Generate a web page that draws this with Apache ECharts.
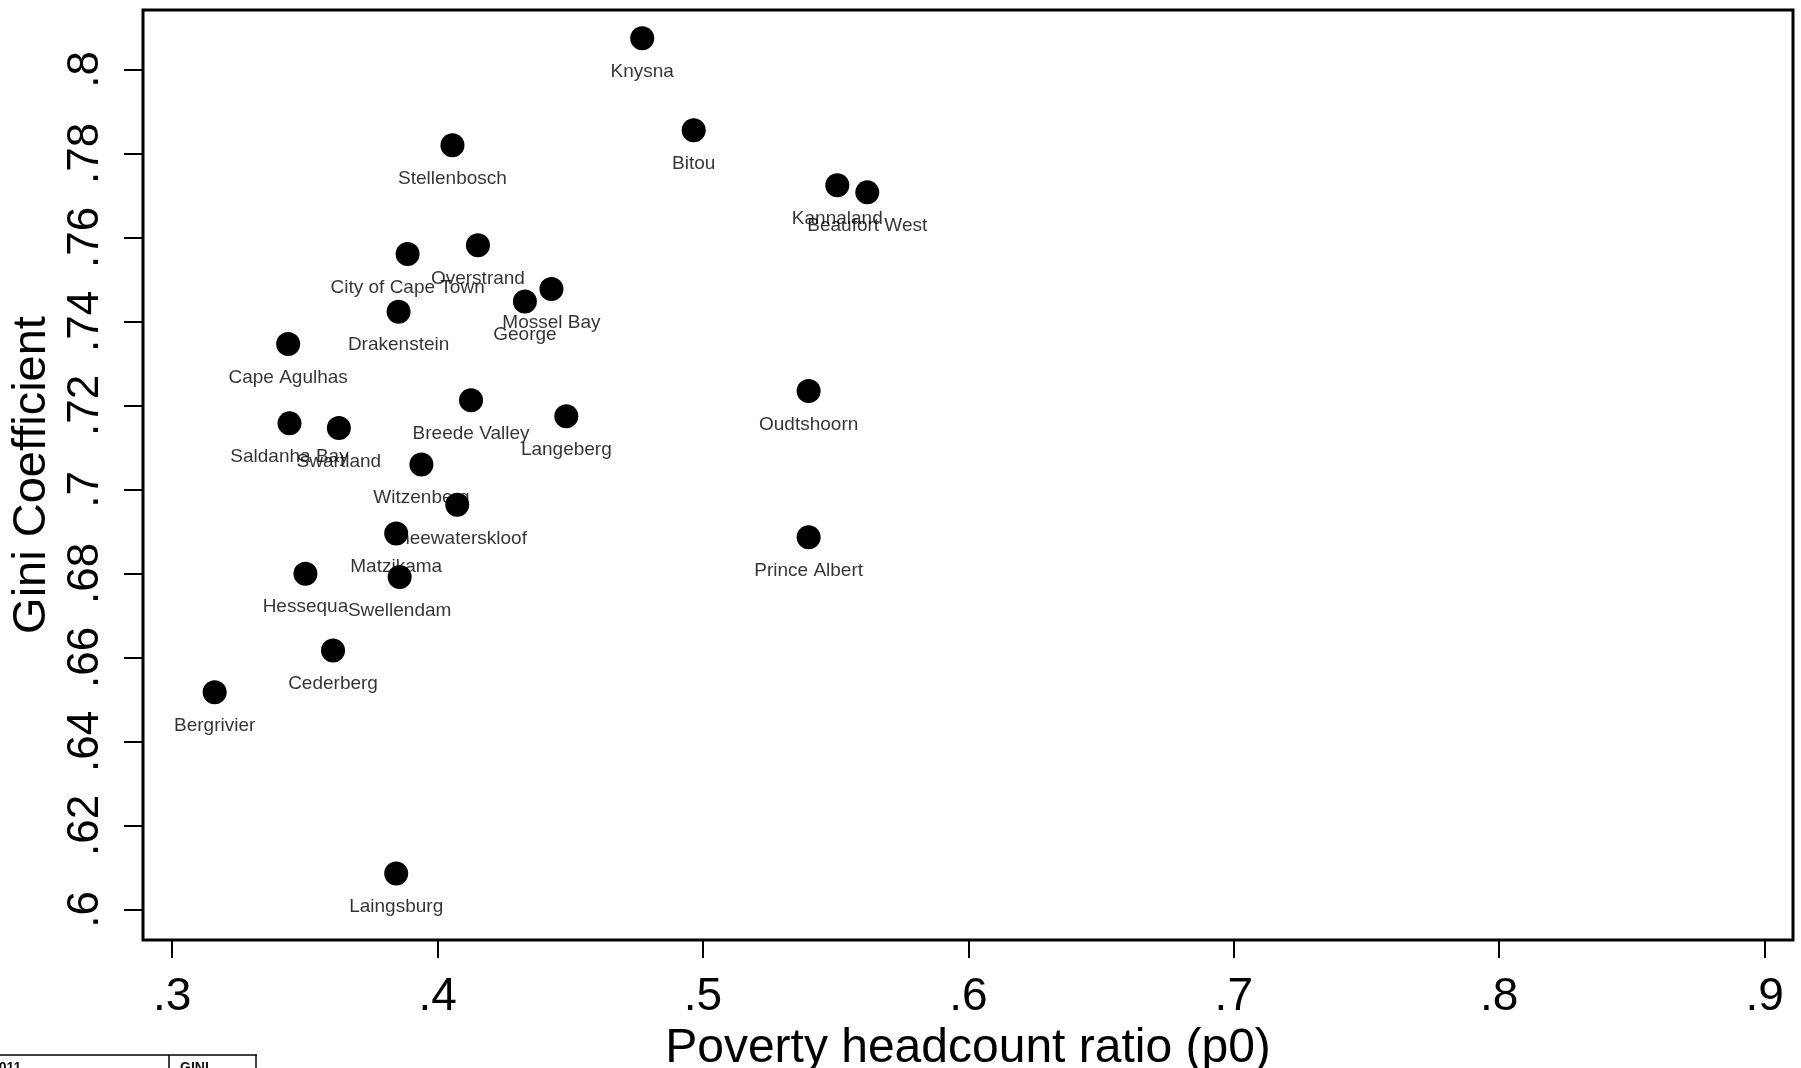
<!DOCTYPE html>
<html>
<head>
<meta charset="utf-8">
<script src="https://cdn.jsdelivr.net/npm/echarts@6/dist/echarts.min.js"></script>
<style>
  html, body { margin: 0; padding: 0; background: #fff; }
  #chart { width: 1801px; height: 1068px; }
</style>
</head>
<body>
<div id="chart"></div>
<script>
// ---- data ----
const municipalities = [
  'Knysna', 'Bitou', 'Stellenbosch', 'Kannaland', 'Beaufort West',
  'Overstrand', 'City of Cape Town', 'Mossel Bay', 'George', 'Drakenstein',
  'Cape Agulhas', 'Oudtshoorn', 'Breede Valley', 'Langeberg', 'Saldanha Bay',
  'Swartland', 'Witzenberg', 'Theewaterskloof', 'Matzikama', 'Prince Albert',
  'Hessequa', 'Swellendam', 'Cederberg', 'Bergrivier', 'Laingsburg'
];
const povertyHeadcount = [
  0.4771, 0.4965, 0.4056, 0.5506, 0.5619,
  0.4152, 0.3887, 0.4429, 0.4329, 0.3853,
  0.3437, 0.5398, 0.4126, 0.4485, 0.3442,
  0.3628, 0.3939, 0.4074, 0.3844, 0.5398,
  0.3502, 0.3857, 0.3606, 0.3160, 0.3844
];
const giniCoefficient = [
  0.8074, 0.7855, 0.7819, 0.7724, 0.7707,
  0.7581, 0.7560, 0.7477, 0.7447, 0.7423,
  0.7346, 0.7234, 0.7212, 0.7174, 0.7157,
  0.7146, 0.7059, 0.6963, 0.6895, 0.6886,
  0.6799, 0.6791, 0.6616, 0.6517, 0.6085
];
const xTicks = [0.3, 0.4, 0.5, 0.6, 0.7, 0.8, 0.9];
const yTicks = [0.6, 0.62, 0.64, 0.66, 0.68, 0.7, 0.72, 0.74, 0.76, 0.78, 0.8];
const xTitle = 'Poverty headcount ratio (p0)';
const yTitle = 'Gini Coefficient';

// ---- chart ----
const FONT = '"Liberation Sans", Arial, Helvetica, sans-serif';
function stataFmt(v) {
  let s = (+v).toFixed(2).replace(/0+$/, '').replace(/\.$/, '');
  return s.replace(/^0\./, '.');
}
const points = municipalities.map((n, i) => ({ name: n, value: [povertyHeadcount[i], giniCoefficient[i]] }));

const chart = echarts.init(document.getElementById('chart'), null, { renderer: 'canvas' });
chart.setOption({
  animation: false,
  backgroundColor: '#fff',
  grid: {
    left: 143, right: 8, top: 10, bottom: 128,
    containLabel: false, outerBoundsMode: 'none',
    show: true, borderColor: '#000', borderWidth: 3, backgroundColor: 'transparent'
  },
  xAxis: {
    type: 'value',
    min: 0.28900, max: 0.9107,
    axisLine: { show: false },
    splitLine: { show: false },
    axisTick: { show: true, customValues: xTicks, length: 18, lineStyle: { color: '#000', width: 2 } },
    axisLabel: {
      customValues: xTicks, formatter: stataFmt, margin: 34,
      fontSize: 46, color: '#000', fontFamily: FONT
    },
    name: xTitle, nameLocation: 'middle', nameGap: 79,
    nameTextStyle: { fontSize: 48, color: '#000', fontFamily: FONT }
  },
  yAxis: {
    type: 'value',
    min: 0.59269, max: 0.81412,
    axisLine: { show: false },
    splitLine: { show: false },
    axisTick: { show: true, customValues: yTicks, length: 19, lineStyle: { color: '#000', width: 2 } },
    axisLabel: {
      customValues: yTicks, formatter: stataFmt, margin: 35, rotate: 90,
      fontSize: 44, color: '#000', fontFamily: FONT
    },
    name: yTitle, nameLocation: 'middle', nameGap: 87, nameRotate: 90,
    nameTextStyle: { fontSize: 47, color: '#000', fontFamily: FONT }
  },
  series: [
    {
      type: 'scatter', z: 1, silent: true,
      data: points, symbolSize: 24,
      itemStyle: { color: 'rgba(0,0,0,0)' },
      label: {
        show: true, position: 'bottom', distance: 12,
        formatter: p => p.name, fontSize: 19, color: '#000', fontFamily: FONT
      }
    },
    {
      type: 'scatter', z: 3, silent: true,
      data: points, symbolSize: 24,
      itemStyle: { color: '#000', opacity: 1 },
      label: { show: false }
    }
  ],
  graphic: [
    { type: 'line', shape: { x1: 0, y1: 1055, x2: 257, y2: 1055 }, style: { stroke: '#000', lineWidth: 1.5 } },
    { type: 'line', shape: { x1: 169, y1: 1055, x2: 169, y2: 1068 }, style: { stroke: '#000', lineWidth: 1.5 } },
    { type: 'line', shape: { x1: 256, y1: 1055, x2: 256, y2: 1068 }, style: { stroke: '#000', lineWidth: 1.5 } },
    { type: 'text', left: -9, top: 1061, style: { text: '2011', fontSize: 14, fontWeight: 'bold', fill: '#111', fontFamily: FONT } },
    { type: 'text', left: 180, top: 1061, style: { text: 'GINI', fontSize: 14, fontWeight: 'bold', fill: '#111', fontFamily: FONT } }
  ]
});
</script>
</body>
</html>
